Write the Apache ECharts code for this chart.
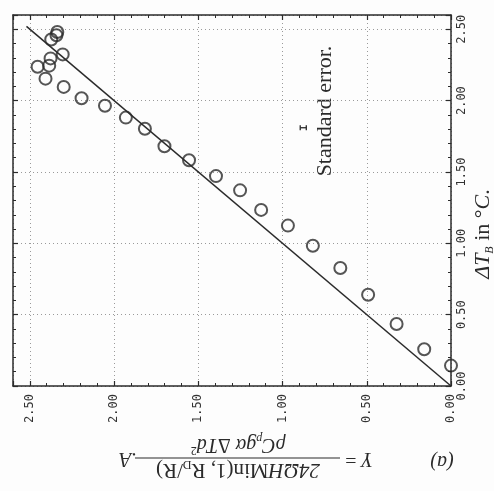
<!DOCTYPE html>
<html>
<head>
<meta charset="utf-8">
<script src="https://cdn.jsdelivr.net/npm/echarts@6/dist/echarts.min.js"></script>
<style>
  html, body { margin: 0; padding: 0; background: #fdfdfd; }
  #chart { width: 494px; height: 491px; }
</style>
</head>
<body>
<div id="chart"></div>
<script>
// Scaled forcing Y (horizontal axis, reversed) against measured ΔT_B (vertical axis)
const forcingY = [2.337, 2.342, 2.373, 2.305, 2.377, 2.385, 2.454, 2.407, 2.299, 2.193,
                  2.054, 1.930, 1.817, 1.701, 1.555, 1.395, 1.252, 1.127, 0.968, 0.820,
                  0.657, 0.492, 0.323, 0.159, 0.000];
const deltaTB  = [2.481, 2.458, 2.428, 2.324, 2.296, 2.245, 2.237, 2.154, 2.096, 2.017,
                  1.964, 1.881, 1.803, 1.680, 1.582, 1.471, 1.371, 1.234, 1.124, 0.983,
                  0.827, 0.639, 0.435, 0.258, 0.143];
// Reference line ΔT_B = Y
const fitY  = [0, 2.52];
const fitDT = [0, 2.52];
// Standard error marker: [Y, ΔT_B, half-width]
const stdErr = [0.877, 1.81, 0.018];
const tickValues = [0, 0.5, 1.0, 1.5, 2.0, 2.5];

const INK = '#2b2b2b';
const SERIF = '"Liberation Serif", "DejaVu Serif", serif';
const MONO = '"DejaVu Sans Mono", "Liberation Mono", monospace';

const chart = echarts.init(document.getElementById('chart'), null, { renderer: 'canvas' });

function axisBase(pos, showLabel, isX) {
  return {
    type: 'value',
    position: pos,
    min: 0, max: 2.6, interval: 0.5,
    inverse: isX,
    axisLine: { show: true, onZero: false, lineStyle: { color: INK, width: 1.5 } },
    axisTick: { show: true, inside: true, length: 5, lineStyle: { color: INK, width: 1.2 } },
    minorTick: { show: true, splitNumber: 5, length: 3, lineStyle: { color: INK, width: 1 } },
    splitLine: { show: showLabel, lineStyle: { color: '#9a9a9a', width: 1, type: [1, 3] } },
    minorSplitLine: { show: false },
    axisLabel: {
      show: showLabel,
      rotate: 90,
      margin: isX ? 8 : 5,
      fontFamily: MONO,
      fontSize: 12,
      color: '#333',
      showMaxLabel: false,
      formatter: v => tickValues.includes(+v.toFixed(2)) ? v.toFixed(2) : ''
    }
  };
}

const points = forcingY.map((y, i) => [y, deltaTB[i]]);
const fitLine = fitY.map((y, i) => [y, fitDT[i]]);

chart.setOption({
  animation: false,
  backgroundColor: '#fdfdfd',
  grid: { left: 13, right: 43, top: 15, bottom: 105, containLabel: false },
  xAxis: [axisBase('bottom', true, true), axisBase('top', false, true)],
  yAxis: [axisBase('right', true, false), axisBase('left', false, false)],
  series: [
    {
      type: 'line',
      data: fitLine,
      symbol: 'none',
      lineStyle: { color: INK, width: 1.5 },
      z: 2
    },
    {
      type: 'scatter',
      data: points,
      symbol: 'circle',
      symbolSize: 12,
      itemStyle: { color: 'rgba(0,0,0,0)', borderColor: INK, borderWidth: 2 },
      z: 3
    },
    {
      type: 'custom',
      data: [stdErr],
      renderItem: (params, api) => {
        const y = api.value(0), t = api.value(1), e = api.value(2);
        const a = api.coord([y - e, t]);
        const b = api.coord([y + e, t]);
        const cap = 2.5;
        return {
          type: 'group',
          children: [
            { type: 'line', shape: { x1: a[0], y1: a[1], x2: b[0], y2: b[1] }, style: { stroke: INK, lineWidth: 1.3 } },
            { type: 'line', shape: { x1: a[0], y1: a[1] - cap, x2: a[0], y2: a[1] + cap }, style: { stroke: INK, lineWidth: 1.3 } },
            { type: 'line', shape: { x1: b[0], y1: b[1] - cap, x2: b[0], y2: b[1] + cap }, style: { stroke: INK, lineWidth: 1.3 } }
          ]
        };
      },
      z: 3
    }
  ],
  graphic: [
    {
      type: 'text', x: 325, y: 111, rotation: Math.PI / 2,
      style: { text: 'Standard error.', font: '22px ' + SERIF, fill: INK, align: 'center', verticalAlign: 'middle' }
    },
    {
      type: 'text', x: 483, y: 234, rotation: Math.PI / 2,
      style: {
        text: '{i|ΔT}{s|B} in °{i|C}.',
        font: '22px ' + SERIF, fill: INK, align: 'center', verticalAlign: 'middle',
        rich: {
          i: { fontFamily: SERIF, fontSize: 22, fontStyle: 'italic', lineHeight: 26, verticalAlign: 'middle' },
          s: { fontFamily: SERIF, fontSize: 12, fontStyle: 'italic', lineHeight: 26, verticalAlign: 'bottom' }
        }
      }
    },
    {
      type: 'text', x: 442, y: 461, rotation: Math.PI,
      style: { text: '(a)', font: 'italic 20px ' + SERIF, fill: INK, align: 'center', verticalAlign: 'middle' }
    },
    {
      type: 'group', x: 247, y: 458, rotation: Math.PI,
      children: [
        {
          type: 'text', x: -112, y: 0,
          style: { text: '{i|Y} =', font: '20px ' + SERIF, fill: INK, align: 'center', verticalAlign: 'middle',
                   rich: { i: { fontFamily: SERIF, fontSize: 20, fontStyle: 'italic' } } }
        },
        {
          type: 'text', x: 9, y: -12,
          style: {
            text: '{i|24ΩH}Min(1, R{s|D}/R)',
            font: '21px ' + SERIF, fill: INK, align: 'center', verticalAlign: 'middle',
            rich: {
              i: { fontFamily: SERIF, fontSize: 21, fontStyle: 'italic', lineHeight: 24 },
              s: { fontFamily: SERIF, fontSize: 12, lineHeight: 24, verticalAlign: 'bottom' }
            }
          }
        },
        {
          type: 'line', shape: { x1: -93, y1: 0, x2: 112, y2: 0 },
          style: { stroke: INK, lineWidth: 1.2 }
        },
        {
          type: 'text', x: 9, y: 14,
          style: {
            text: '{i|ρC}{s|p}{i|gα} Δ{i|Td}{p|2}',
            font: '20px ' + SERIF, fill: INK, align: 'center', verticalAlign: 'middle',
            rich: {
              i: { fontFamily: SERIF, fontSize: 20, fontStyle: 'italic', lineHeight: 24 },
              s: { fontFamily: SERIF, fontSize: 12, fontStyle: 'italic', lineHeight: 24, verticalAlign: 'bottom' },
              p: { fontFamily: SERIF, fontSize: 12, lineHeight: 24, verticalAlign: 'top' }
            }
          }
        },
        {
          type: 'text', x: 119, y: 0,
          style: { text: '.{i|A}', font: '20px ' + SERIF, fill: INK, align: 'center', verticalAlign: 'middle',
                   rich: { i: { fontFamily: SERIF, fontSize: 20, fontStyle: 'italic' } } }
        }
      ]
    }
  ]
});
</script>
</body>
</html>
